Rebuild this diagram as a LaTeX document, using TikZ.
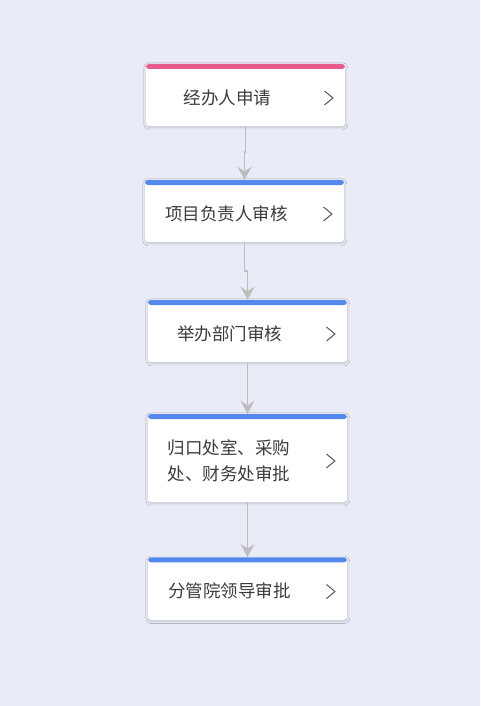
\documentclass[tikz,border=0pt]{standalone}
\usepackage{fontspec}
\newfontfamily\cjk{Noto Sans CJK SC}
\usetikzlibrary{arrows.meta,shadows.blur,calc}
\definecolor{bg}{HTML}{E9ECF7}
\definecolor{barpink}{HTML}{E95A8D}
\definecolor{barblue}{HTML}{5488EC}
\definecolor{txt}{HTML}{3C3C3C}
\definecolor{chevc}{HTML}{555555}
\definecolor{linec}{HTML}{BDBDBD}
\tikzset{
  card/.style={rectangle, rounded corners=3pt, fill=white, inner sep=0pt,
    minimum width=199pt, minimum height=62pt,
    blur shadow={shadow xshift=0.3pt, shadow yshift=-1.3pt, shadow blur radius=2.5pt, shadow opacity=18},
    path picture={\fill[#1] (path picture bounding box.north west) rectangle ([yshift=-5pt]path picture bounding box.north east);}},
  lbl/.style={font=\cjk\fontsize{17.5}{25.5}\selectfont, text=txt, inner sep=0pt, align=left},
  chev/.style={draw=chevc, line width=1pt, line join=miter},
  flow/.style={draw=linec, line width=1.2pt, -{Stealth[length=13pt,width=14pt,inset=4.5pt]}}
}
\begin{document}
\begin{tikzpicture}[x=1pt,y=-1pt]
\fill[bg] (0,0) rectangle (480,706);
\useasboundingbox (0,0) rectangle (480,706);

\node[card=barpink] (n1) at (245.5,95) {};
\node[card=barblue] (n2) at (244.5,211) {};
\node[card=barblue] (n3) at (247.5,331) {};
\node[card=barblue, minimum height=88pt] (n4) at (247.5,458) {};
\node[card=barblue, minimum height=62.5pt] (n5) at (247.5,588.5) {};

\node[lbl] (t1) at ([xshift=-18pt,yshift=-3pt]n1.center) {经办人申请};
\node[lbl] (t2) at ([xshift=-18pt,yshift=-2.5pt]n2.center) {项目负责人审核};
\node[lbl] (t3) at ([xshift=-18pt,yshift=-3pt]n3.center) {举办部门审核};
\node[lbl] (t4) at ([xshift=-18.5pt,yshift=-3pt]n4.center) {归口处室、采购\\处、财务处审批};
\node[lbl] (t5) at ([xshift=-18pt,yshift=-2pt]n5.center) {分管院领导审批};

\foreach \n in {n1,n2,n3,n4,n5}{
  \draw[chev] ([xshift=-20.7pt,yshift=4pt]\n.east) -- ++(8.4,7) -- ++(-8.4,7);
}

\draw[flow] (n1.south) |- ($(n1.south)!0.48!(n2.north)$) -| (n2.north);
\draw[flow] (n2.south) |- ($(n2.south)!0.5!(n3.north)$) -| (n3.north);
\draw[flow] (n3.south) -- (n4.north);
\draw[flow] (n4.south) -- (n5.north);
\end{tikzpicture}
\end{document}
